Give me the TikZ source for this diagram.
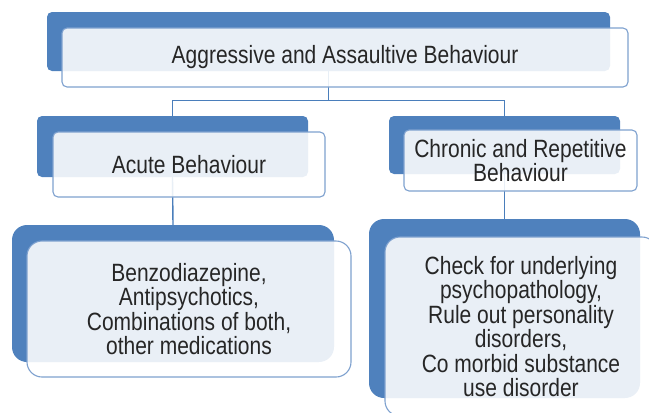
\documentclass[tikz,border=0pt]{standalone}
\usepackage{fontspec}
\setmainfont{Liberation Sans}[FakeStretch=0.84]
\definecolor{accent}{HTML}{4F81BD}
\definecolor{edgeblue}{HTML}{7EA1CF}
\definecolor{wire}{HTML}{4A7EBB}
\definecolor{ink}{HTML}{262626}
\begin{document}
\begin{tikzpicture}[x=1pt,y=-1pt,
  back/.style={rectangle, fill=accent, draw=none, inner sep=0pt, rounded corners=5pt},
  front/.style={rectangle, fill=white, fill opacity=0.88, text opacity=1,
    draw=edgeblue, line width=1.1pt, inner sep=0pt, rounded corners=5pt,
    align=center, text=ink, font=\fontsize{25}{24.5}\selectfont},
  big/.style={rounded corners=15pt},
  wirestyle/.style={draw=wire, line width=1.4pt}]
\useasboundingbox (0,0) rectangle (649,413);

% coloured backing shapes
\node[back, minimum width=563pt, minimum height=59pt] (b0) at (328.5,41.5) {};
\node[back, minimum width=271pt, minimum height=61pt] (b1) at (172.5,146.5) {};
\node[back, minimum width=231pt, minimum height=58pt] (b2) at (504.5,145) {};
\node[back, big, minimum width=322pt, minimum height=137pt] (b3) at (173,293.5) {};
\node[back, big, minimum width=271pt, minimum height=179pt] (b4) at (504.5,308.5) {};

% connectors
\coordinate (split) at (328.5,100.5);
\draw[wirestyle] (b0.south) -- (split);
\draw[wirestyle] (b1.north) |- (split) -| (b2.north);
\draw[wirestyle] (b1.south) -- (b3.north);
\draw[wirestyle] (b2.south) -- (b4.north);

% text panels
\node[front, minimum width=566pt, minimum height=59pt] (f0) at (345,57.5)
  {Aggressive and Assaultive Behaviour};
\node[front, minimum width=272pt, minimum height=65pt] (f1) at (189,164.5)
  {Acute Behaviour};
\node[front, minimum width=233pt, minimum height=61pt] (f2) at (520.5,160.5)
  {Chronic and Repetitive\\Behaviour};
\node[front, big, minimum width=324pt, minimum height=136pt] (f3) at (189,309)
  {Benzodiazepine,\\Antipsychotics,\\Combinations of both,\\other medications};
\node[front, big, minimum width=272pt, minimum height=179pt] (f4) at (521,326.5)
  {Check for underlying\\psychopathology,\\Rule out personality\\disorders,\\Co morbid substance\\use disorder};
\end{tikzpicture}
\end{document}
